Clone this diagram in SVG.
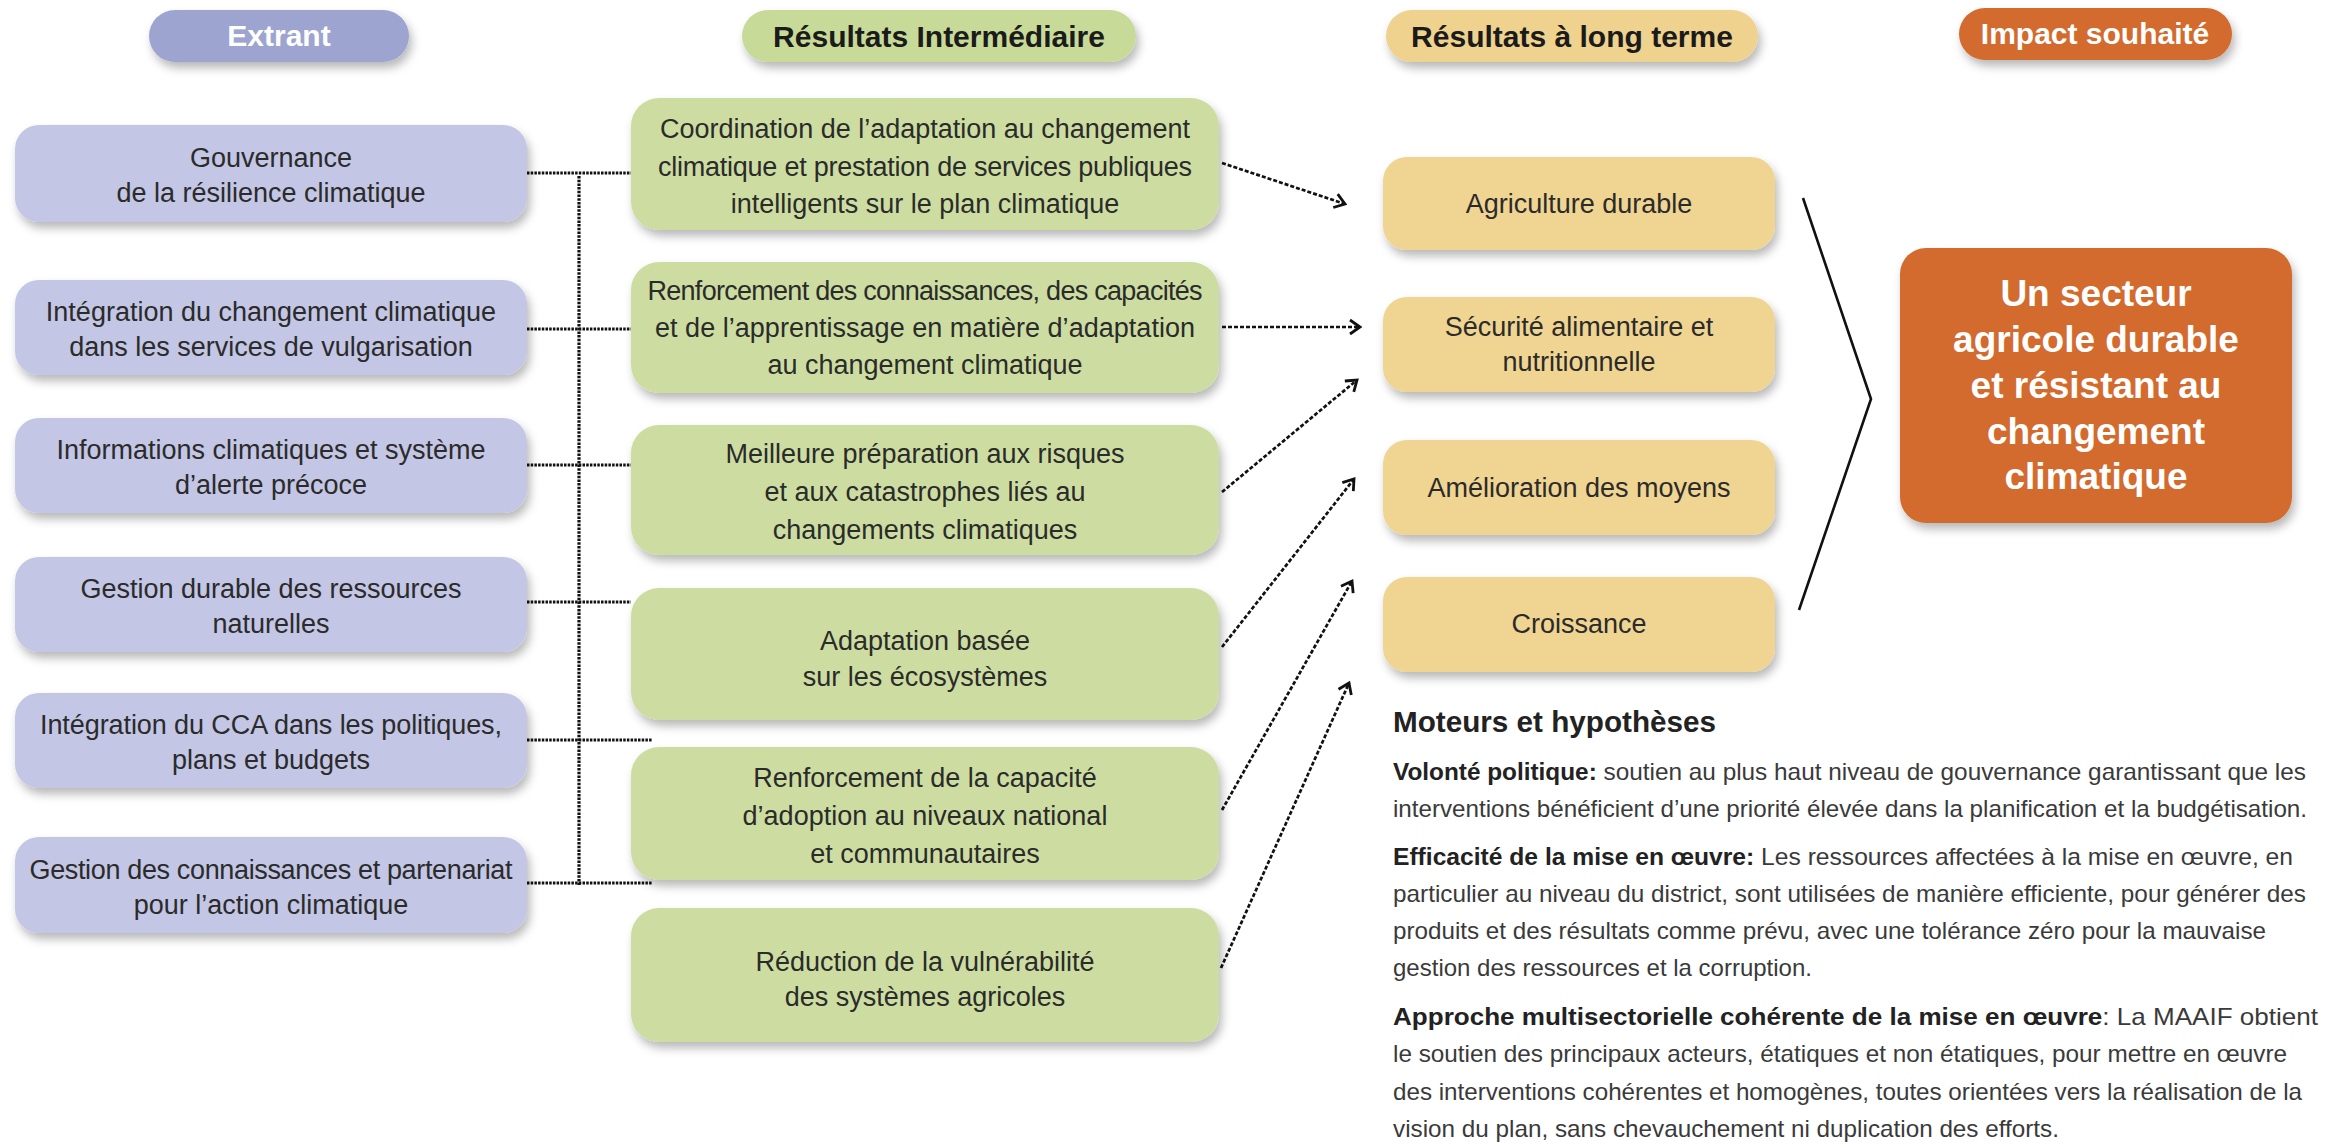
<svg xmlns="http://www.w3.org/2000/svg" width="2344" height="1145" viewBox="0 0 2344 1145">
<defs>
<filter id="sh" x="-10%" y="-20%" width="125%" height="160%">
<feDropShadow dx="3" dy="6" stdDeviation="5" flood-color="#000" flood-opacity="0.28"/>
</filter>
<marker id="ah" markerUnits="userSpaceOnUse" markerWidth="18" markerHeight="18" viewBox="0 0 18 18" refX="15" refY="9" orient="auto">
<path d="M5,2 L15,9 L5,16" fill="none" stroke="#111" stroke-width="2.8"/>
</marker>
<style>
text{font-family:"Liberation Sans",Arial,sans-serif;}
.sh{filter:url(#sh);}
.lav{fill:#C3C6E4;}
.grn{fill:#CDDDA1;}
.tan{fill:#F0D491;}
.org{fill:#D36A2F;}
.nt{font-size:27px;fill:#2b2b2b;text-anchor:middle;}
.hd{font-size:30px;font-weight:bold;text-anchor:middle;}
.hw{fill:#ffffff;}
.hk{fill:#1b1b1b;}
.imp{font-size:37px;font-weight:bold;fill:#ffffff;text-anchor:middle;}
.dot{fill:none;stroke:#111;stroke-width:3.2;stroke-dasharray:2.5 1.2;}
.arr{fill:none;stroke:#111;stroke-width:2.7;stroke-dasharray:4 2;marker-end:url(#ah);}
.chev{fill:none;stroke:#111;stroke-width:2.6;}
.pt{font-size:24px;fill:#3a3a3a;}
.pb{font-weight:bold;fill:#222;}
.ttl{font-size:29px;font-weight:bold;fill:#222;}
</style>
</defs>
<rect width="2344" height="1145" fill="#ffffff"/>

<!-- headers -->
<g id="h-extrant"><rect class="sh" x="149" y="10" width="260" height="52" rx="26" fill="#9DA4CF"/><text class="hd hw" x="279" y="46">Extrant</text></g>
<g id="h-resint"><rect class="sh" x="742" y="10" width="394" height="52" rx="26" fill="#C8DA98"/><text class="hd hk" x="939" y="47">Résultats Intermédiaire</text></g>
<g id="h-reslt"><rect class="sh" x="1386" y="10" width="372" height="52" rx="26" fill="#EFD28D"/><text class="hd hk" x="1572" y="47">Résultats à long terme</text></g>
<g id="h-impact"><rect class="sh" x="1959" y="8" width="273" height="52" rx="26" fill="#D36A2F"/><text class="hd hw" x="2095" y="44">Impact souhaité</text></g>

<!-- connectors -->
<g id="connectors">
<line class="dot" x1="527" y1="173" x2="631" y2="173"/>
<line class="dot" x1="527" y1="329" x2="631" y2="329"/>
<line class="dot" x1="527" y1="465" x2="631" y2="465"/>
<line class="dot" x1="527" y1="602" x2="631" y2="602"/>
<line class="dot" x1="527" y1="740" x2="652" y2="740"/>
<line class="dot" x1="527" y1="883" x2="652" y2="883"/>
<line class="dot" x1="579" y1="176" x2="579" y2="885"/>
<line class="arr" x1="1222" y1="163" x2="1345" y2="204"/>
<line class="arr" x1="1222" y1="327" x2="1360" y2="327"/>
<line class="arr" x1="1222" y1="492" x2="1357" y2="380"/>
<line class="arr" x1="1222" y1="647" x2="1354" y2="479"/>
<line class="arr" x1="1222" y1="810" x2="1352" y2="581"/>
<line class="arr" x1="1221" y1="968" x2="1349" y2="683"/>
<polyline class="chev" points="1803,198 1871,399 1799,610"/>
</g>

<!-- Extrant column -->
<g id="n-gouvernance"><rect class="sh lav" x="15" y="125" width="512" height="97" rx="24"/>
<text class="nt" x="271" y="167">Gouvernance</text><text class="nt" x="271" y="202">de la résilience climatique</text></g>
<g id="n-integration"><rect class="sh lav" x="15" y="280" width="512" height="95" rx="24"/>
<text class="nt" x="271" y="321">Intégration du changement climatique</text><text class="nt" x="271" y="356">dans les services de vulgarisation</text></g>
<g id="n-informations"><rect class="sh lav" x="15" y="418" width="512" height="95" rx="24"/>
<text class="nt" x="271" y="459">Informations climatiques et système</text><text class="nt" x="271" y="494">d’alerte précoce</text></g>
<g id="n-gestion-durable"><rect class="sh lav" x="15" y="557" width="512" height="95" rx="24"/>
<text class="nt" x="271" y="598">Gestion durable des ressources</text><text class="nt" x="271" y="633">naturelles</text></g>
<g id="n-cca"><rect class="sh lav" x="15" y="693" width="512" height="95" rx="24"/>
<text class="nt" x="271" y="734" textLength="462">Intégration du CCA dans les politiques,</text><text class="nt" x="271" y="769">plans et budgets</text></g>
<g id="n-gestion-conn"><rect class="sh lav" x="15" y="837" width="512" height="96" rx="24"/>
<text class="nt" x="271" y="879" textLength="483">Gestion des connaissances et partenariat</text><text class="nt" x="271" y="914">pour l’action climatique</text></g>

<!-- Résultats intermédiaires -->
<g id="n-coordination"><rect class="sh grn" x="631" y="98" width="588" height="132" rx="28"/>
<text class="nt" x="925" y="138">Coordination de l’adaptation au changement</text>
<text class="nt" x="925" y="176" textLength="534">climatique et prestation de services publiques</text>
<text class="nt" x="925" y="213">intelligents sur le plan climatique</text></g>
<g id="n-renforcement"><rect class="sh grn" x="631" y="262" width="588" height="131" rx="28"/>
<text class="nt" x="925" y="300" textLength="555">Renforcement des connaissances, des capacités</text>
<text class="nt" x="925" y="337" textLength="540">et de l’apprentissage en matière d’adaptation</text>
<text class="nt" x="925" y="374">au changement climatique</text></g>
<g id="n-meilleure"><rect class="sh grn" x="631" y="425" width="588" height="130" rx="28"/>
<text class="nt" x="925" y="463">Meilleure préparation aux risques</text>
<text class="nt" x="925" y="501">et aux catastrophes liés au</text>
<text class="nt" x="925" y="539">changements climatiques</text></g>
<g id="n-adaptation"><rect class="sh grn" x="631" y="588" width="588" height="132" rx="28"/>
<text class="nt" x="925" y="650">Adaptation basée</text>
<text class="nt" x="925" y="686">sur les écosystèmes</text></g>
<g id="n-capacite"><rect class="sh grn" x="631" y="747" width="588" height="133" rx="28"/>
<text class="nt" x="925" y="787">Renforcement de la capacité</text>
<text class="nt" x="925" y="825">d’adoption au niveaux national</text>
<text class="nt" x="925" y="863">et communautaires</text></g>
<g id="n-reduction"><rect class="sh grn" x="631" y="908" width="588" height="134" rx="28"/>
<text class="nt" x="925" y="971">Réduction de la vulnérabilité</text>
<text class="nt" x="925" y="1006">des systèmes agricoles</text></g>

<!-- Résultats à long terme -->
<g id="n-agriculture"><rect class="sh tan" x="1383" y="157" width="392" height="93" rx="24"/>
<text class="nt" x="1579" y="213">Agriculture durable</text></g>
<g id="n-securite"><rect class="sh tan" x="1383" y="297" width="392" height="95" rx="24"/>
<text class="nt" x="1579" y="336">Sécurité alimentaire et</text><text class="nt" x="1579" y="371">nutritionnelle</text></g>
<g id="n-amelioration"><rect class="sh tan" x="1383" y="440" width="392" height="95" rx="24"/>
<text class="nt" x="1579" y="497">Amélioration des moyens</text></g>
<g id="n-croissance"><rect class="sh tan" x="1383" y="577" width="392" height="95" rx="24"/>
<text class="nt" x="1579" y="633">Croissance</text></g>

<!-- Impact -->
<g id="n-impact"><rect class="sh org" x="1900" y="248" width="392" height="275" rx="26"/>
<text class="imp" x="2096" y="306">Un secteur</text>
<text class="imp" x="2096" y="352">agricole durable</text>
<text class="imp" x="2096" y="398">et résistant au</text>
<text class="imp" x="2096" y="444">changement</text>
<text class="imp" x="2096" y="489">climatique</text></g>

<!-- Moteurs et hypothèses -->
<g id="moteurs">
<text class="ttl" x="1393" y="732" textLength="323" lengthAdjust="spacingAndGlyphs">Moteurs et hypothèses</text>
<text class="pt" x="1393" y="780" textLength="913" lengthAdjust="spacingAndGlyphs"><tspan class="pb">Volonté politique:</tspan> soutien au plus haut niveau de gouvernance garantissant que les</text>
<text class="pt" x="1393" y="817" textLength="914" lengthAdjust="spacingAndGlyphs">interventions bénéficient d’une priorité élevée dans la planification et la budgétisation.</text>
<text class="pt" x="1393" y="865" textLength="900" lengthAdjust="spacingAndGlyphs"><tspan class="pb">Efficacité de la mise en œuvre:</tspan> Les ressources affectées à la mise en œuvre, en</text>
<text class="pt" x="1393" y="902" textLength="913" lengthAdjust="spacingAndGlyphs">particulier au niveau du district, sont utilisées de manière efficiente, pour générer des</text>
<text class="pt" x="1393" y="939" textLength="873" lengthAdjust="spacingAndGlyphs">produits et des résultats comme prévu, avec une tolérance zéro pour la mauvaise</text>
<text class="pt" x="1393" y="976" textLength="419" lengthAdjust="spacingAndGlyphs">gestion des ressources et la corruption.</text>
<text class="pt" x="1393" y="1025" textLength="925" lengthAdjust="spacingAndGlyphs"><tspan class="pb">Approche multisectorielle cohérente de la mise en œuvre</tspan>: La MAAIF obtient</text>
<text class="pt" x="1393" y="1062" textLength="894" lengthAdjust="spacingAndGlyphs">le soutien des principaux acteurs, étatiques et non étatiques, pour mettre en œuvre</text>
<text class="pt" x="1393" y="1100" textLength="909" lengthAdjust="spacingAndGlyphs">des interventions cohérentes et homogènes, toutes orientées vers la réalisation de la</text>
<text class="pt" x="1393" y="1137" textLength="666" lengthAdjust="spacingAndGlyphs">vision du plan, sans chevauchement ni duplication des efforts.</text>
</g>
</svg>
